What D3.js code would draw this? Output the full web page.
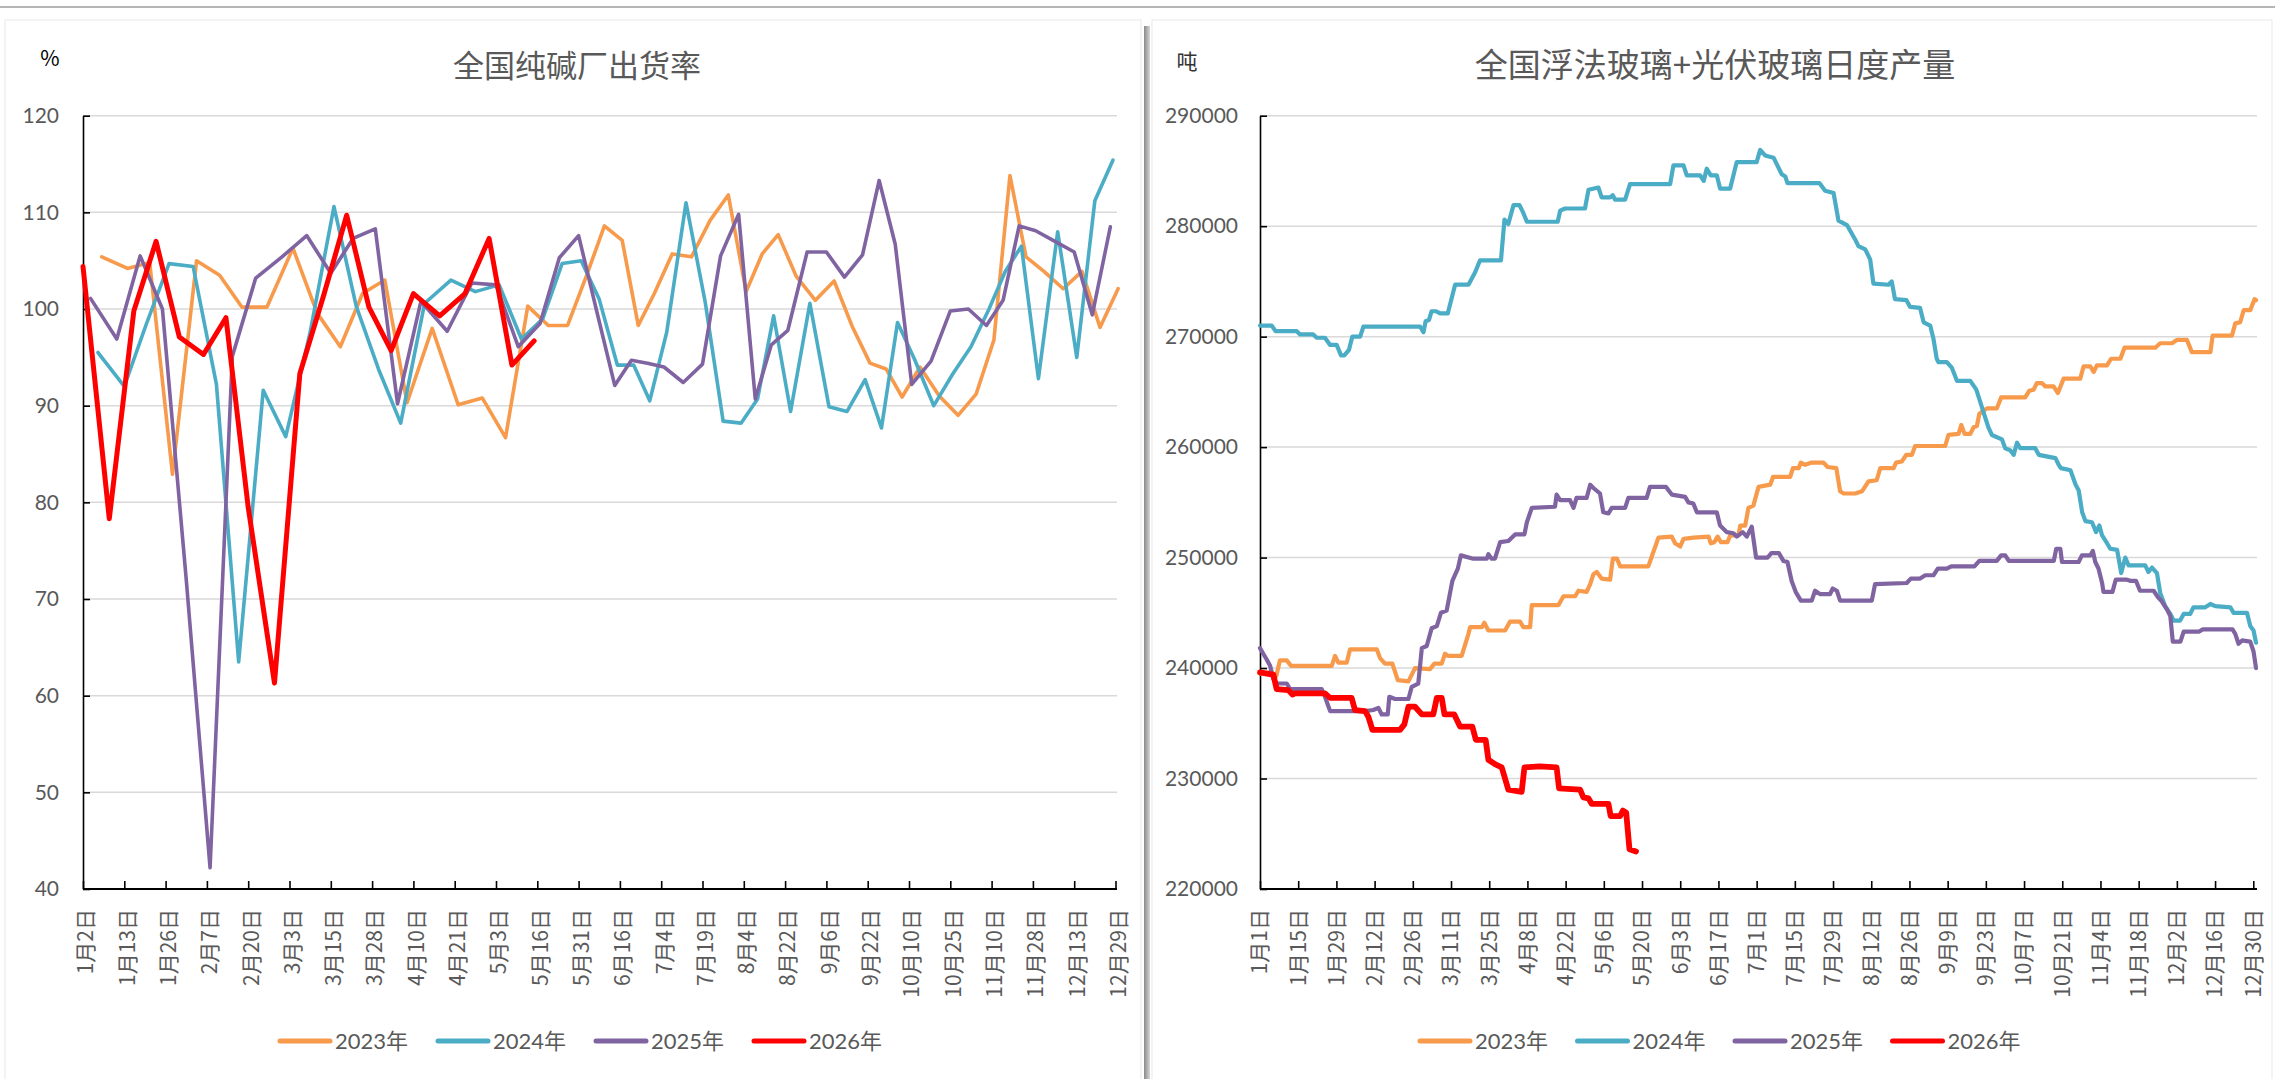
<!DOCTYPE html>
<html>
<head>
<meta charset="utf-8">
<script src="https://cdnjs.cloudflare.com/ajax/libs/d3/7.8.5/d3.min.js"></script>
<style>
  body { margin: 0; background: #fff; }
  svg { display: block; }
  text { font-family: "Lato", "Noto Sans CJK SC", sans-serif; }
  .cjk { font-family: "Noto Sans CJK SC", sans-serif; }
</style>
</head>
<body>
<svg id="chart" width="2275" height="1079"></svg>
<script>
// ---------- data ----------
var years = ["2023年", "2024年", "2025年", "2026年"];
var colors = ["#F79A4B", "#4BACC6", "#8064A2", "#FF0000"];

// left chart: 全国纯碱厂出货率 (weekly, %)
var sodaLabels = ["1月2日","1月13日","1月26日","2月7日","2月20日","3月3日","3月15日","3月28日","4月10日","4月21日","5月3日","5月16日","5月31日","6月16日","7月4日","7月19日","8月4日","8月22日","9月6日","9月22日","10月10日","10月25日","11月10日","11月28日","12月13日","12月29日"];
var sodaTicks = [40, 50, 60, 70, 80, 90, 100, 110, 120];
var sodaStart = ["2023-01-07", "2024-01-06", "2025-01-04", "2026-01-02"];
var soda2023 = [105.4,104.2,104.8,82.9,105.0,103.5,100.2,100.2,106.3,99.6,96.1,101.6,103.0,90.3,98.0,90.1,90.8,86.7,100.3,98.3,98.3,103.4,108.6,107.1,98.3,101.6,105.7,105.4,109.2,111.8,101.8,105.7,107.7,103.4,100.9,102.9,98.2,94.4,93.8,90.9,94.0,91.0,89.0,91.2,96.8,113.8,105.4,103.9,102.1,103.9,98.1,102.1];
var soda2024 = [95.5,92.0,98.5,104.7,104.4,92.2,63.5,91.6,86.8,97.6,110.6,100.3,93.8,88.2,100.6,103.0,101.8,102.5,96.9,99.0,104.7,105.0,101.0,94.2,94.2,90.5,97.6,111.0,100.8,88.4,88.2,90.7,99.3,89.4,100.6,89.9,89.4,92.7,87.7,98.6,94.8,90.0,93.3,96.1,100.0,103.9,106.5,92.8,108.0,95.0,111.2,115.4];
var soda2025 = [101.1,96.9,105.5,100.0,72.0,42.2,95.1,103.2,105.4,107.6,103.7,107.3,108.3,90.2,100.8,97.7,102.7,102.5,96.1,98.5,105.3,107.6,99.8,92.1,94.7,94.4,94.0,92.4,94.3,105.5,109.8,90.7,96.3,97.8,105.9,105.9,103.3,105.6,113.3,106.7,92.2,94.6,99.8,100.0,98.3,100.9,108.6,108.1,107.0,105.9,99.4,108.5];
var soda2026 = [104.4,78.3,99.8,107.0,97.1,95.3,99.1,79.5,61.3,93.3,101.5,109.7,100.2,95.7,101.6,99.3,101.6,107.3,94.2,96.7];

// right chart: 全国浮法玻璃+光伏玻璃日度产量 (daily, 吨) as [day index, value]
var glassLabels = ["1月1日","1月15日","1月29日","2月12日","2月26日","3月11日","3月25日","4月8日","4月22日","5月6日","5月20日","6月3日","6月17日","7月1日","7月15日","7月29日","8月12日","8月26日","9月9日","9月23日","10月7日","10月21日","11月4日","11月18日","12月2日","12月16日","12月30日"];
var glassTicks = [220000, 230000, 240000, 250000, 260000, 270000, 280000, 290000];
var glass2023 = [[0,239500],[3.1,239600],[4.9,239300],[6,239300],[7.3,240700],[9.8,240700],[11.4,240200],[26.3,240200],[27.5,241100],[28.7,240500],[31.8,240500],[33,241700],[42.8,241700],[44,240900],[45.8,240400],[48.5,240400],[50.5,238900],[54.4,238800],[56.8,240000],[62.3,239900],[63.9,240400],[66.6,240400],[67.8,241300],[69,241100],[73.9,241100],[76.4,243100],[77,243700],[81.3,243700],[82.2,244100],[83.7,243400],[89.8,243400],[91.6,244200],[95.3,244200],[96.5,243700],[99,243700],[99.6,245700],[109.4,245700],[111.2,246500],[115.5,246500],[116.7,247000],[119.7,246900],[121,247600],[122.2,248500],[123.4,248700],[125.2,248100],[128.3,248000],[129.3,249900],[130.8,249900],[132,249200],[142.3,249200],[146,251800],[150.9,251900],[152.1,251300],[154,251000],[155.2,251700],[158.9,251800],[164.4,251900],[165.2,251300],[166.5,251400],[167.7,251900],[168.9,251400],[171.3,251400],[172.3,252000],[175.3,252000],[176,252900],[177.8,252900],[179,254500],[180.8,254700],[182.7,256400],[187,256600],[188,257300],[194.3,257300],[195.3,258100],[197.4,258100],[198.2,258600],[199.8,258400],[202.2,258600],[206.5,258600],[208,258200],[211.2,258100],[212.6,256000],[213.9,255800],[218.1,255800],[220.6,256000],[223,256900],[226,257000],[227.3,258100],[232.2,258100],[233.1,258600],[235.2,258700],[236.8,259300],[238.9,259300],[240.1,260100],[251.1,260100],[252.3,261100],[256,261200],[257,262000],[258.2,261200],[260.3,261200],[261.5,261800],[262.7,261900],[263.6,263000],[265.1,263300],[266.4,263500],[270,263500],[271.6,264500],[280.4,264500],[281.9,265100],[283.5,265200],[284.7,265800],[286.5,265800],[287.8,265500],[290.8,265500],[292.4,264900],[294.5,266200],[300.6,266200],[301.8,267300],[304.3,267300],[305.5,266800],[306.7,267400],[310.4,267400],[311.9,268000],[315.3,268000],[316.8,269000],[328.1,269000],[329.9,269400],[334.2,269400],[336,269700],[339.7,269700],[341.5,268600],[348.3,268600],[349.1,270100],[356.2,270100],[357.4,271200],[359.2,271300],[360.5,272400],[362.9,272400],[364.5,273400],[365,273300]];
var glass2024 = [[0,271000],[4.3,271000],[5.7,270500],[13.4,270500],[14.7,270200],[19.5,270200],[20.8,269900],[23.8,269900],[25.7,269250],[28.1,269250],[29.7,268300],[30.9,268300],[32.6,268800],[33.8,270000],[36.7,270000],[37.9,270900],[58.7,270900],[59.9,270400],[60.7,271400],[61.9,271500],[62.9,272300],[64.5,272300],[66,272100],[68.8,272100],[71.5,274700],[76.4,274700],[78.8,275800],[80.6,276900],[88.3,276900],[89.6,280600],[91,280200],[92.9,281900],[95.1,281900],[96.5,281200],[97.8,280400],[109.1,280400],[110,281400],[111.8,281600],[119.1,281600],[120.4,283300],[124,283500],[125.2,282600],[128.3,282600],[129.3,282800],[130.1,282400],[133.8,282400],[135.6,283800],[150.3,283800],[151.5,285500],[155.2,285500],[156.4,284600],[161.3,284600],[162.6,284100],[163.7,285200],[165.2,284600],[167.4,284600],[168.6,283400],[172.3,283400],[174.7,285800],[182,285800],[183.3,286900],[185.1,286400],[188.2,286200],[191.2,284700],[192.5,284500],[193.3,283900],[205,283900],[207.1,283200],[210.2,283000],[212,280500],[215.1,280100],[218.1,278800],[219.3,278200],[221.8,277900],[223.6,277000],[224.8,274800],[230.3,274700],[231.5,275000],[232.7,273400],[236.9,273300],[238.2,272700],[241.9,272600],[243.2,271300],[245.6,271000],[246.8,269800],[248,268000],[248.6,267700],[251.7,267700],[253.5,267200],[254.8,266400],[255.4,266000],[260.3,266000],[262.5,265200],[263.3,264600],[265.1,263200],[266.9,261800],[268.2,261100],[271.9,260700],[273.1,259900],[275,259700],[276.2,259300],[277.4,260400],[278.6,259900],[284.1,259900],[285.4,259300],[291.5,259000],[292.7,258400],[293.5,258100],[297,257900],[298.9,256600],[300,256100],[301.3,254100],[302.5,253300],[304.9,253200],[306.4,252300],[307.6,252900],[308.6,252000],[310.4,251300],[311.6,250800],[314.1,250700],[315.6,248600],[317.1,250000],[318.3,249300],[324.4,249300],[325.6,248700],[326.9,249100],[328.7,248600],[329.9,246800],[331.7,245600],[333.6,244900],[334.8,244300],[337.2,244300],[338.5,244900],[340.9,244900],[342.1,245500],[346.4,245500],[348.3,245800],[350.1,245600],[355.6,245500],[356.8,245000],[361.7,245000],[362.9,243800],[364.1,243400],[365,242300]];
var glass2025 = [[0,241800],[1.2,241300],[2.4,240800],[3.7,240200],[4.9,239000],[6.1,238600],[9.8,238600],[11,238100],[22.6,238100],[23.8,237400],[25.7,236100],[38.5,236100],[41.5,236200],[43.4,236400],[44.6,235800],[46.8,235800],[47.4,237400],[49.5,237200],[54.4,237200],[55.6,238300],[58,238600],[59.3,241800],[61.1,242000],[62.9,243600],[64.8,243800],[66.3,245000],[68.4,245200],[70.5,247900],[72.5,249000],[73.6,250200],[78.2,249900],[83.1,249900],[83.7,250300],[84.9,249900],[86.1,249900],[88,251400],[91,251500],[93.5,252100],[96.9,252100],[97.8,253200],[99.6,254500],[108.1,254600],[108.7,255700],[110,255200],[113.6,255200],[114.9,254500],[116,255400],[119.7,255400],[121,256600],[122.2,256300],[124.6,255800],[125.8,254100],[127.7,254000],[128.9,254500],[133.8,254500],[135,255400],[141.7,255400],[142.9,256400],[148.8,256400],[150.9,255700],[155.8,255500],[157,255000],[158.8,254900],[160.1,254100],[167.4,254100],[168.6,252900],[171.1,252300],[173.5,252200],[174.7,251900],[176.9,252300],[178.4,251900],[180.2,252800],[181.8,250000],[186,250000],[187.4,250400],[190.2,250400],[191.8,249700],[193.3,249600],[194.8,247900],[196.3,246900],[198.2,246100],[202.2,246100],[203.4,247000],[205.2,246700],[208.9,246700],[209.9,247200],[211.4,247000],[212.6,246100],[224.2,246100],[225.4,247600],[237,247700],[238.5,248100],[241.9,248100],[243.8,248400],[246.8,248400],[248.4,249000],[251.7,249000],[253.3,249200],[261.8,249200],[263.6,249700],[270,249700],[271.6,250200],[273.1,250200],[274.4,249700],[290.9,249700],[291.8,250800],[293.3,250800],[293.9,249600],[300,249600],[301.2,250200],[304.3,250200],[305.2,250600],[306.1,249600],[307.3,249000],[308.6,247700],[309.1,246900],[312.4,246900],[313.6,248000],[317.7,248000],[318.9,247900],[321,247900],[322.5,247000],[327.5,247000],[329.1,246400],[330.3,246100],[332.4,245300],[333.6,244700],[334.5,242400],[337.3,242400],[338.5,243300],[344.2,243300],[345.4,243500],[356.4,243500],[357.4,243100],[358.6,242200],[359.9,242500],[362.9,242400],[364.1,241500],[365,240000]];
var glass2026 = [[0,239600],[4.9,239400],[6.1,238100],[10.4,238000],[11.9,237600],[12.8,237700],[23.8,237700],[25.7,237300],[33.6,237300],[34.8,236200],[38.5,236100],[39.7,235600],[41.2,234400],[51.3,234400],[52.9,234900],[54.4,236500],[56.8,236500],[59.3,235800],[63.5,235800],[64.8,237300],[66.6,237300],[67.6,235800],[71.2,235800],[73.3,234700],[77.8,234700],[79.1,233500],[82.7,233500],[83.7,231700],[86.1,231300],[88.6,231000],[91,229000],[95.9,228800],[96.9,231000],[102.6,231100],[108.7,231000],[109.6,229100],[117.3,229000],[118.5,228300],[120.4,228200],[121.6,227700],[127.7,227700],[128.5,226600],[132,226600],[133,227100],[134.2,226900],[135.4,223600],[137.8,223400]];

// ---------- helpers ----------
var parseDay = d3.timeParse("%Y-%m-%d");
function refDay(m, d) {            // day of year in a common reference year
  return d3.timeDay.count(new Date(2023, 0, 1), new Date(2023, m - 1, d));
}
function labelMD(s) {
  var p = s.match(/(\d+)月(\d+)日/);
  return [+p[1], +p[2]];
}
function weekly(start, values) {
  var t0 = parseDay(start);
  return values.map(function(v, i) {
    var t = d3.timeDay.offset(t0, 7 * i);
    return {day: refDay(t.getMonth() + 1, t.getDate()), value: v};
  });
}

var svg = d3.select("#chart");
var W = 2275, H = 1079;
var TOP = 115.7, BOTTOM = 889;

// page frame (two excel chart areas side by side)
svg.append("rect").attr("width", W).attr("height", H).attr("fill", "#fff");
svg.append("rect").attr("x", 5).attr("y", 20).attr("width", 1136).attr("height", 1075)
   .attr("fill", "none").attr("stroke", "#efefef").attr("stroke-width", 1.5);
svg.append("rect").attr("x", 1152).attr("y", 20).attr("width", 1120).attr("height", 1075)
   .attr("fill", "none").attr("stroke", "#efefef").attr("stroke-width", 1.5);
svg.append("line").attr("x1", 0).attr("x2", W).attr("y1", 7).attr("y2", 7)
   .attr("stroke", "#b5b5b5").attr("stroke-width", 2);
var grad = svg.append("defs").append("linearGradient").attr("id", "sep");
grad.append("stop").attr("offset", "0%").attr("stop-color", "#8a8a8a");
grad.append("stop").attr("offset", "100%").attr("stop-color", "#d6d6d6");
svg.append("rect").attr("x", 1144).attr("y", 26).attr("width", 6).attr("height", H - 26)
   .attr("fill", "url(#sep)");

function drawPanel(o) {
  var g = svg.append("g");
  // gridlines
  g.selectAll(".grid").data(o.yTicks).enter().append("line")
    .attr("x1", o.x0).attr("x2", o.gridEnd)
    .attr("y1", function(d) { return o.y(d); })
    .attr("y2", function(d) { return o.y(d); })
    .attr("stroke", "#d9d9d9").attr("stroke-width", 1.5);

  // y axis, ticks pointing inside
  var ya = g.append("g").attr("transform", "translate(" + o.x0 + ",0)")
    .call(d3.axisLeft(o.y).tickValues(o.yTicks).tickSizeInner(-7).tickSizeOuter(0)
      .tickPadding(o.yPad).tickFormat(d3.format("d")));
  ya.select(".domain").attr("stroke", "#000").attr("stroke-width", 1.6);
  ya.selectAll(".tick line").attr("stroke", "#000").attr("stroke-width", 1.6);
  ya.selectAll("text").attr("fill", "#595959").style("font-size", "21px")
    .style("font-family", "Lato, sans-serif");

  // x axis, ticks pointing inside
  var xa = g.append("g").attr("transform", "translate(0," + BOTTOM + ")")
    .call(d3.axisBottom(d3.scaleLinear().domain([o.x0, o.x1]).range([o.x0, o.x1]))
      .tickValues(o.xTickPos).tickSizeInner(-8).tickSizeOuter(0).tickFormat(""));
  xa.select(".domain").attr("stroke", "#000").attr("stroke-width", 2)
    .attr("d", "M" + o.x0 + ",0H" + o.axisEnd);
  xa.selectAll(".tick line").attr("stroke", "#000").attr("stroke-width", 1.6);

  // rotated category labels
  g.selectAll(".xl").data(o.xLabels).enter().append("text")
    .attr("class", "cjk")
    .attr("transform", function(d, i) {
      return "translate(" + (o.xTickPos[i] + o.labelShift) + ",909) rotate(-90)";
    })
    .attr("text-anchor", "end").attr("dy", "0.35em")
    .attr("fill", "#595959").style("font-size", "21px")
    .text(function(d) { return d; });

  // title and unit
  g.append("text").attr("class", "cjk").attr("x", o.titleX).attr("y", 63)
    .attr("text-anchor", "middle").attr("dominant-baseline", "central")
    .attr("fill", "#595959").style("font-size", o.titleSize + "px").text(o.title);
  g.append("text").attr("class", "cjk").attr("x", o.unitX).attr("y", o.unitY)
    .attr("text-anchor", "middle").attr("dominant-baseline", "central")
    .attr("fill", o.unitColor).style("font-size", "21px").text(o.unit);

  // series
  var line = d3.line()
    .x(function(d) { return o.x(d.day); })
    .y(function(d) { return o.y(d.value); });
  o.series.forEach(function(s, i) {
    g.append("path").datum(s)
      .attr("d", line)
      .attr("fill", "none")
      .attr("stroke", colors[i])
      .attr("stroke-width", i === 3 ? o.boldWidth : o.lineWidth)
      .attr("stroke-linejoin", "round")
      .attr("stroke-linecap", "round");
  });

  // legend
  var lg = g.selectAll(".lg").data(years).enter().append("g")
    .attr("transform", function(d, i) { return "translate(" + (o.legendX + i * o.legendStep) + ",1041)"; });
  lg.append("line").attr("x1", 2).attr("x2", 52).attr("y1", 0).attr("y2", 0)
    .attr("stroke", function(d, i) { return colors[i]; })
    .attr("stroke-width", 5).attr("stroke-linecap", "round");
  lg.append("text").attr("x", 57).attr("dy", "0.35em")
    .attr("fill", "#595959").style("font-size", "22px")
    .text(function(d) { return d; });
}

// ---------- left chart ----------
var sodaTickX = d3.scaleLinear().domain([0, sodaLabels.length - 1]).range([83, 1115.5]);
var xSoda = d3.scaleLinear()
  .domain(sodaLabels.map(function(s) { var md = labelMD(s); return refDay(md[0], md[1]); }))
  .range(sodaLabels.map(function(s, i) { return sodaTickX(i); }));
var ySoda = d3.scaleLinear().domain([40, 120]).range([BOTTOM, TOP]);

drawPanel({
  x: xSoda, y: ySoda, x0: 83, x1: 1115.5, axisEnd: 1117, gridEnd: 1117,
  yTicks: sodaTicks, yPad: 24,
  xTickPos: sodaLabels.map(function(s, i) { return sodaTickX(i); }),
  xLabels: sodaLabels, labelShift: 3,
  title: "全国纯碱厂出货率", titleX: 577, titleSize: 31,
  unit: "%", unitX: 50, unitY: 57, unitColor: "#000",
  series: [weekly(sodaStart[0], soda2023), weekly(sodaStart[1], soda2024),
           weekly(sodaStart[2], soda2025), weekly(sodaStart[3], soda2026)],
  lineWidth: 3.6, boldWidth: 5,
  legendX: 278, legendStep: 158
});

// ---------- right chart ----------
var xGlass = d3.scaleLinear().domain([0, 365]).range([1260, 2256]);
var yGlass = d3.scaleLinear().domain([220000, 290000]).range([BOTTOM, TOP]);
function glassDay(s) {
  var md = labelMD(s);
  return d3.timeDay.count(new Date(2024, 0, 1), new Date(2024, md[0] - 1, md[1]));
}
function pairs(a) { return a.map(function(p) { return {day: p[0], value: p[1]}; }); }

drawPanel({
  x: xGlass, y: yGlass, x0: 1260, x1: 2256, axisEnd: 2257, gridEnd: 2257,
  yTicks: glassTicks, yPad: 22,
  xTickPos: glassLabels.map(function(s) { return xGlass(glassDay(s)); }),
  xLabels: glassLabels, labelShift: 0,
  title: "全国浮法玻璃+光伏玻璃日度产量", titleX: 1715, titleSize: 33,
  unit: "吨", unitX: 1187, unitY: 60, unitColor: "#333",
  series: [pairs(glass2023), pairs(glass2024), pairs(glass2025), pairs(glass2026)],
  lineWidth: 4.2, boldWidth: 5.8,
  legendX: 1418, legendStep: 157.5
});
</script>
</body>
</html>
